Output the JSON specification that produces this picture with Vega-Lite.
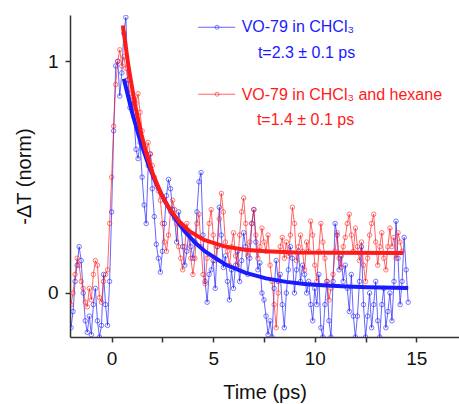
{
  "$schema": "https://vega.github.io/schema/vega-lite/v6.json",
  "width": 389,
  "height": 322,
  "autosize": {"type": "none"},
  "padding": {"left": 70, "top": 15, "right": 0, "bottom": 67},
  "background": "white",
  "config": {"font": "Liberation Sans", "view": {"stroke": null}},
  "datasets": {
    "obs": [
      {"t":-2.0,"v":-0.15,"s":"CHCl3"},{"t":-1.9,"v":-0.08,"s":"CHCl3"},{"t":-1.8,"v":0.05,"s":"CHCl3"},{"t":-1.7,"v":0.12,"s":"CHCl3"},{"t":-1.6,"v":0.2,"s":"CHCl3"},{"t":-1.5,"v":0.14,"s":"CHCl3"},{"t":-1.4,"v":0.0,"s":"CHCl3"},{"t":-1.3,"v":-0.12,"s":"CHCl3"},{"t":-1.2,"v":-0.17,"s":"CHCl3"},{"t":-1.1,"v":-0.1,"s":"CHCl3"},
      {"t":-1.0,"v":-0.18,"s":"CHCl3"},{"t":-0.9,"v":-0.05,"s":"CHCl3"},{"t":-0.8,"v":0.02,"s":"CHCl3"},{"t":-0.7,"v":-0.12,"s":"CHCl3"},{"t":-0.6,"v":-0.19,"s":"CHCl3"},{"t":-0.5,"v":-0.14,"s":"CHCl3"},{"t":-0.4,"v":0.08,"s":"CHCl3"},{"t":-0.3,"v":-0.05,"s":"CHCl3"},{"t":-0.2,"v":-0.14,"s":"CHCl3"},{"t":-0.1,"v":0.05,"s":"CHCl3"},
      {"t":0.0,"v":0.35,"s":"CHCl3"},{"t":0.1,"v":0.7,"s":"CHCl3"},{"t":0.2,"v":0.98,"s":"CHCl3"},{"t":0.3,"v":1.0,"s":"CHCl3"},{"t":0.4,"v":0.85,"s":"CHCl3"},{"t":0.5,"v":0.95,"s":"CHCl3"},{"t":0.6,"v":1.12,"s":"CHCl3"},{"t":0.7,"v":1.19,"s":"CHCl3"},{"t":0.8,"v":0.92,"s":"CHCl3"},{"t":0.9,"v":0.8,"s":"CHCl3"},
      {"t":1.0,"v":0.83,"s":"CHCl3"},{"t":1.1,"v":0.76,"s":"CHCl3"},{"t":1.2,"v":0.62,"s":"CHCl3"},{"t":1.3,"v":0.58,"s":"CHCl3"},{"t":1.4,"v":0.65,"s":"CHCl3"},{"t":1.5,"v":0.5,"s":"CHCl3"},{"t":1.6,"v":0.38,"s":"CHCl3"},{"t":1.7,"v":0.3,"s":"CHCl3"},{"t":1.8,"v":0.55,"s":"CHCl3"},{"t":1.9,"v":0.6,"s":"CHCl3"},
      {"t":2.0,"v":0.45,"s":"CHCl3"},{"t":2.1,"v":0.33,"s":"CHCl3"},{"t":2.2,"v":0.21,"s":"CHCl3"},{"t":2.3,"v":0.15,"s":"CHCl3"},{"t":2.4,"v":0.09,"s":"CHCl3"},{"t":2.5,"v":0.18,"s":"CHCl3"},{"t":2.6,"v":0.3,"s":"CHCl3"},{"t":2.7,"v":0.42,"s":"CHCl3"},{"t":2.8,"v":0.49,"s":"CHCl3"},{"t":2.9,"v":0.45,"s":"CHCl3"},
      {"t":3.0,"v":0.36,"s":"CHCl3"},{"t":3.1,"v":0.32,"s":"CHCl3"},{"t":3.2,"v":0.22,"s":"CHCl3"},{"t":3.3,"v":0.35,"s":"CHCl3"},{"t":3.4,"v":0.3,"s":"CHCl3"},{"t":3.5,"v":0.2,"s":"CHCl3"},{"t":3.6,"v":0.12,"s":"CHCl3"},{"t":3.7,"v":0.18,"s":"CHCl3"},{"t":3.8,"v":0.26,"s":"CHCl3"},{"t":3.9,"v":0.2,"s":"CHCl3"},
      {"t":4.0,"v":0.15,"s":"CHCl3"},{"t":4.1,"v":0.22,"s":"CHCl3"},{"t":4.2,"v":0.35,"s":"CHCl3"},{"t":4.3,"v":0.48,"s":"CHCl3"},{"t":4.4,"v":0.52,"s":"CHCl3"},{"t":4.5,"v":0.25,"s":"CHCl3"},{"t":4.6,"v":0.05,"s":"CHCl3"},{"t":4.7,"v":-0.04,"s":"CHCl3"},{"t":4.8,"v":0.08,"s":"CHCl3"},{"t":4.9,"v":0.1,"s":"CHCl3"},
      {"t":5.0,"v":0.14,"s":"CHCl3"},{"t":5.1,"v":0.02,"s":"CHCl3"},{"t":5.2,"v":0.2,"s":"CHCl3"},{"t":5.3,"v":0.37,"s":"CHCl3"},{"t":5.4,"v":0.25,"s":"CHCl3"},{"t":5.5,"v":0.11,"s":"CHCl3"},{"t":5.6,"v":0.16,"s":"CHCl3"},{"t":5.7,"v":0.05,"s":"CHCl3"},{"t":5.8,"v":-0.03,"s":"CHCl3"},{"t":5.9,"v":0.1,"s":"CHCl3"},
      {"t":6.0,"v":0.02,"s":"CHCl3"},{"t":6.1,"v":0.12,"s":"CHCl3"},{"t":6.2,"v":0.18,"s":"CHCl3"},{"t":6.3,"v":0.05,"s":"CHCl3"},{"t":6.4,"v":0.14,"s":"CHCl3"},{"t":6.5,"v":0.26,"s":"CHCl3"},{"t":6.6,"v":0.2,"s":"CHCl3"},{"t":6.7,"v":0.08,"s":"CHCl3"},{"t":6.8,"v":0.15,"s":"CHCl3"},{"t":6.9,"v":0.3,"s":"CHCl3"},
      {"t":7.0,"v":0.36,"s":"CHCl3"},{"t":7.1,"v":0.22,"s":"CHCl3"},{"t":7.2,"v":0.1,"s":"CHCl3"},{"t":7.3,"v":0.13,"s":"CHCl3"},{"t":7.4,"v":0.0,"s":"CHCl3"},{"t":7.5,"v":-0.03,"s":"CHCl3"},{"t":7.6,"v":-0.1,"s":"CHCl3"},{"t":7.7,"v":-0.18,"s":"CHCl3"},{"t":7.8,"v":-0.12,"s":"CHCl3"},{"t":7.9,"v":-0.19,"s":"CHCl3"},
      {"t":8.0,"v":0.02,"s":"CHCl3"},{"t":8.1,"v":0.14,"s":"CHCl3"},{"t":8.2,"v":0.05,"s":"CHCl3"},{"t":8.3,"v":0.08,"s":"CHCl3"},{"t":8.4,"v":-0.05,"s":"CHCl3"},{"t":8.5,"v":-0.15,"s":"CHCl3"},{"t":8.6,"v":0.0,"s":"CHCl3"},{"t":8.7,"v":0.1,"s":"CHCl3"},{"t":8.8,"v":0.2,"s":"CHCl3"},{"t":8.9,"v":0.15,"s":"CHCl3"},
      {"t":9.0,"v":0.0,"s":"CHCl3"},{"t":9.1,"v":0.1,"s":"CHCl3"},{"t":9.2,"v":0.18,"s":"CHCl3"},{"t":9.3,"v":0.05,"s":"CHCl3"},{"t":9.4,"v":0.12,"s":"CHCl3"},{"t":9.5,"v":0.08,"s":"CHCl3"},{"t":9.6,"v":0.0,"s":"CHCl3"},{"t":9.7,"v":0.05,"s":"CHCl3"},{"t":9.8,"v":-0.05,"s":"CHCl3"},{"t":9.9,"v":-0.12,"s":"CHCl3"},
      {"t":10.0,"v":0.02,"s":"CHCl3"},{"t":10.1,"v":-0.05,"s":"CHCl3"},{"t":10.2,"v":0.08,"s":"CHCl3"},{"t":10.3,"v":-0.15,"s":"CHCl3"},{"t":10.4,"v":-0.19,"s":"CHCl3"},{"t":10.5,"v":-0.05,"s":"CHCl3"},{"t":10.6,"v":0.05,"s":"CHCl3"},{"t":10.7,"v":-0.12,"s":"CHCl3"},{"t":10.8,"v":-0.19,"s":"CHCl3"},{"t":10.9,"v":0.05,"s":"CHCl3"},
      {"t":11.0,"v":0.3,"s":"CHCl3"},{"t":11.1,"v":0.25,"s":"CHCl3"},{"t":11.2,"v":0.1,"s":"CHCl3"},{"t":11.3,"v":0.16,"s":"CHCl3"},{"t":11.4,"v":0.05,"s":"CHCl3"},{"t":11.5,"v":0.12,"s":"CHCl3"},{"t":11.6,"v":0.02,"s":"CHCl3"},{"t":11.7,"v":-0.08,"s":"CHCl3"},{"t":11.8,"v":0.08,"s":"CHCl3"},{"t":11.9,"v":-0.1,"s":"CHCl3"},
      {"t":12.0,"v":-0.19,"s":"CHCl3"},{"t":12.1,"v":-0.1,"s":"CHCl3"},{"t":12.2,"v":0.05,"s":"CHCl3"},{"t":12.3,"v":0.2,"s":"CHCl3"},{"t":12.4,"v":-0.05,"s":"CHCl3"},{"t":12.5,"v":-0.19,"s":"CHCl3"},{"t":12.6,"v":-0.1,"s":"CHCl3"},{"t":12.7,"v":0.0,"s":"CHCl3"},{"t":12.8,"v":-0.15,"s":"CHCl3"},{"t":12.9,"v":-0.05,"s":"CHCl3"},
      {"t":13.0,"v":0.05,"s":"CHCl3"},{"t":13.1,"v":-0.12,"s":"CHCl3"},{"t":13.2,"v":-0.19,"s":"CHCl3"},{"t":13.3,"v":-0.05,"s":"CHCl3"},{"t":13.4,"v":0.02,"s":"CHCl3"},{"t":13.5,"v":-0.15,"s":"CHCl3"},{"t":13.6,"v":-0.08,"s":"CHCl3"},{"t":13.7,"v":0.0,"s":"CHCl3"},{"t":13.8,"v":-0.12,"s":"CHCl3"},{"t":13.9,"v":0.05,"s":"CHCl3"},
      {"t":14.0,"v":0.31,"s":"CHCl3"},{"t":14.1,"v":0.15,"s":"CHCl3"},{"t":14.2,"v":-0.05,"s":"CHCl3"},{"t":14.3,"v":0.05,"s":"CHCl3"},{"t":14.4,"v":0.24,"s":"CHCl3"},{"t":14.5,"v":0.1,"s":"CHCl3"},{"t":14.6,"v":-0.04,"s":"CHCl3"},
      {"t":-2.0,"v":-0.05,"s":"hexane"},{"t":-1.9,"v":0.0,"s":"hexane"},{"t":-1.8,"v":0.08,"s":"hexane"},{"t":-1.7,"v":0.15,"s":"hexane"},{"t":-1.6,"v":0.12,"s":"hexane"},{"t":-1.5,"v":0.05,"s":"hexane"},{"t":-1.4,"v":0.02,"s":"hexane"},{"t":-1.3,"v":-0.04,"s":"hexane"},{"t":-1.2,"v":-0.06,"s":"hexane"},{"t":-1.1,"v":0.02,"s":"hexane"},
      {"t":-1.0,"v":-0.03,"s":"hexane"},{"t":-0.9,"v":0.08,"s":"hexane"},{"t":-0.8,"v":0.14,"s":"hexane"},{"t":-0.7,"v":0.12,"s":"hexane"},{"t":-0.6,"v":-0.02,"s":"hexane"},{"t":-0.5,"v":-0.04,"s":"hexane"},{"t":-0.4,"v":0.05,"s":"hexane"},{"t":-0.3,"v":0.08,"s":"hexane"},{"t":-0.2,"v":0.1,"s":"hexane"},{"t":-0.1,"v":0.3,"s":"hexane"},
      {"t":0.0,"v":0.5,"s":"hexane"},{"t":0.1,"v":0.72,"s":"hexane"},{"t":0.2,"v":0.9,"s":"hexane"},{"t":0.3,"v":1.0,"s":"hexane"},{"t":0.4,"v":1.05,"s":"hexane"},{"t":0.5,"v":0.98,"s":"hexane"},{"t":0.6,"v":1.02,"s":"hexane"},{"t":0.7,"v":0.97,"s":"hexane"},{"t":0.8,"v":0.92,"s":"hexane"},{"t":0.9,"v":0.86,"s":"hexane"},
      {"t":1.0,"v":0.8,"s":"hexane"},{"t":1.1,"v":0.84,"s":"hexane"},{"t":1.2,"v":0.82,"s":"hexane"},{"t":1.3,"v":0.86,"s":"hexane"},{"t":1.4,"v":0.78,"s":"hexane"},{"t":1.5,"v":0.7,"s":"hexane"},{"t":1.6,"v":0.62,"s":"hexane"},{"t":1.7,"v":0.6,"s":"hexane"},{"t":1.8,"v":0.65,"s":"hexane"},{"t":1.9,"v":0.6,"s":"hexane"},
      {"t":2.0,"v":0.55,"s":"hexane"},{"t":2.1,"v":0.5,"s":"hexane"},{"t":2.2,"v":0.46,"s":"hexane"},{"t":2.3,"v":0.44,"s":"hexane"},{"t":2.4,"v":0.4,"s":"hexane"},{"t":2.5,"v":0.3,"s":"hexane"},{"t":2.6,"v":0.22,"s":"hexane"},{"t":2.7,"v":0.18,"s":"hexane"},{"t":2.8,"v":0.25,"s":"hexane"},{"t":2.9,"v":0.35,"s":"hexane"},
      {"t":3.0,"v":0.4,"s":"hexane"},{"t":3.1,"v":0.36,"s":"hexane"},{"t":3.2,"v":0.3,"s":"hexane"},{"t":3.3,"v":0.2,"s":"hexane"},{"t":3.4,"v":0.15,"s":"hexane"},{"t":3.5,"v":0.1,"s":"hexane"},{"t":3.6,"v":0.2,"s":"hexane"},{"t":3.7,"v":0.3,"s":"hexane"},{"t":3.8,"v":0.25,"s":"hexane"},{"t":3.9,"v":0.15,"s":"hexane"},
      {"t":4.0,"v":0.08,"s":"hexane"},{"t":4.1,"v":0.15,"s":"hexane"},{"t":4.2,"v":0.3,"s":"hexane"},{"t":4.3,"v":0.34,"s":"hexane"},{"t":4.4,"v":0.2,"s":"hexane"},{"t":4.5,"v":0.08,"s":"hexane"},{"t":4.6,"v":0.04,"s":"hexane"},{"t":4.7,"v":0.15,"s":"hexane"},{"t":4.8,"v":0.3,"s":"hexane"},{"t":4.9,"v":0.36,"s":"hexane"},
      {"t":5.0,"v":0.25,"s":"hexane"},{"t":5.1,"v":0.14,"s":"hexane"},{"t":5.2,"v":0.2,"s":"hexane"},{"t":5.3,"v":0.32,"s":"hexane"},{"t":5.4,"v":0.43,"s":"hexane"},{"t":5.5,"v":0.35,"s":"hexane"},{"t":5.6,"v":0.22,"s":"hexane"},{"t":5.7,"v":0.18,"s":"hexane"},{"t":5.8,"v":0.12,"s":"hexane"},{"t":5.9,"v":0.2,"s":"hexane"},
      {"t":6.0,"v":0.26,"s":"hexane"},{"t":6.1,"v":0.16,"s":"hexane"},{"t":6.2,"v":0.12,"s":"hexane"},{"t":6.3,"v":0.25,"s":"hexane"},{"t":6.4,"v":0.35,"s":"hexane"},{"t":6.5,"v":0.41,"s":"hexane"},{"t":6.6,"v":0.3,"s":"hexane"},{"t":6.7,"v":0.16,"s":"hexane"},{"t":6.8,"v":0.22,"s":"hexane"},{"t":6.9,"v":0.3,"s":"hexane"},
      {"t":7.0,"v":0.36,"s":"hexane"},{"t":7.1,"v":0.25,"s":"hexane"},{"t":7.2,"v":0.15,"s":"hexane"},{"t":7.3,"v":0.2,"s":"hexane"},{"t":7.4,"v":0.28,"s":"hexane"},{"t":7.5,"v":0.22,"s":"hexane"},{"t":7.6,"v":0.18,"s":"hexane"},{"t":7.7,"v":0.25,"s":"hexane"},{"t":7.8,"v":0.12,"s":"hexane"},{"t":7.9,"v":0.05,"s":"hexane"},
      {"t":8.0,"v":-0.05,"s":"hexane"},{"t":8.1,"v":-0.15,"s":"hexane"},{"t":8.2,"v":0.0,"s":"hexane"},{"t":8.3,"v":0.2,"s":"hexane"},{"t":8.4,"v":0.24,"s":"hexane"},{"t":8.5,"v":0.15,"s":"hexane"},{"t":8.6,"v":0.22,"s":"hexane"},{"t":8.7,"v":0.16,"s":"hexane"},{"t":8.8,"v":0.25,"s":"hexane"},{"t":8.9,"v":0.37,"s":"hexane"},
      {"t":9.0,"v":0.3,"s":"hexane"},{"t":9.1,"v":0.14,"s":"hexane"},{"t":9.2,"v":0.2,"s":"hexane"},{"t":9.3,"v":0.25,"s":"hexane"},{"t":9.4,"v":0.18,"s":"hexane"},{"t":9.5,"v":0.1,"s":"hexane"},{"t":9.6,"v":0.22,"s":"hexane"},{"t":9.7,"v":0.18,"s":"hexane"},{"t":9.8,"v":0.31,"s":"hexane"},{"t":9.9,"v":0.25,"s":"hexane"},
      {"t":10.0,"v":0.12,"s":"hexane"},{"t":10.1,"v":0.05,"s":"hexane"},{"t":10.2,"v":0.18,"s":"hexane"},{"t":10.3,"v":0.3,"s":"hexane"},{"t":10.4,"v":0.22,"s":"hexane"},{"t":10.5,"v":0.15,"s":"hexane"},{"t":10.6,"v":0.05,"s":"hexane"},{"t":10.7,"v":-0.03,"s":"hexane"},{"t":10.8,"v":0.02,"s":"hexane"},{"t":10.9,"v":0.08,"s":"hexane"},
      {"t":11.0,"v":0.18,"s":"hexane"},{"t":11.1,"v":0.26,"s":"hexane"},{"t":11.2,"v":0.15,"s":"hexane"},{"t":11.3,"v":0.11,"s":"hexane"},{"t":11.4,"v":0.2,"s":"hexane"},{"t":11.5,"v":0.24,"s":"hexane"},{"t":11.6,"v":0.3,"s":"hexane"},{"t":11.7,"v":0.34,"s":"hexane"},{"t":11.8,"v":0.25,"s":"hexane"},{"t":11.9,"v":0.18,"s":"hexane"},
      {"t":12.0,"v":0.28,"s":"hexane"},{"t":12.1,"v":0.2,"s":"hexane"},{"t":12.2,"v":0.14,"s":"hexane"},{"t":12.3,"v":0.22,"s":"hexane"},{"t":12.4,"v":0.12,"s":"hexane"},{"t":12.5,"v":0.05,"s":"hexane"},{"t":12.6,"v":0.15,"s":"hexane"},{"t":12.7,"v":0.25,"s":"hexane"},{"t":12.8,"v":0.3,"s":"hexane"},{"t":12.9,"v":0.34,"s":"hexane"},
      {"t":13.0,"v":0.22,"s":"hexane"},{"t":13.1,"v":0.12,"s":"hexane"},{"t":13.2,"v":0.2,"s":"hexane"},{"t":13.3,"v":0.26,"s":"hexane"},{"t":13.4,"v":0.15,"s":"hexane"},{"t":13.5,"v":0.1,"s":"hexane"},{"t":13.6,"v":0.2,"s":"hexane"},{"t":13.7,"v":0.28,"s":"hexane"},{"t":13.8,"v":0.2,"s":"hexane"},{"t":13.9,"v":0.24,"s":"hexane"},
      {"t":14.0,"v":0.15,"s":"hexane"},{"t":14.1,"v":0.26,"s":"hexane"},{"t":14.2,"v":0.22,"s":"hexane"},{"t":14.3,"v":0.18,"s":"hexane"}
    ],
    "fit": [
      {"t":0.6,"v":0.925,"s":"CHCl3"},{"t":1.0,"v":0.781,"s":"CHCl3"},{"t":1.4,"v":0.659,"s":"CHCl3"},{"t":1.8,"v":0.557,"s":"CHCl3"},{"t":2.2,"v":0.471,"s":"CHCl3"},{"t":2.6,"v":0.399,"s":"CHCl3"},{"t":3.1,"v":0.325,"s":"CHCl3"},{"t":3.6,"v":0.266,"s":"CHCl3"},{"t":4.1,"v":0.218,"s":"CHCl3"},{"t":4.6,"v":0.179,"s":"CHCl3"},{"t":5.6,"v":0.123,"s":"CHCl3"},{"t":6.6,"v":0.087,"s":"CHCl3"},{"t":7.6,"v":0.063,"s":"CHCl3"},{"t":8.6,"v":0.048,"s":"CHCl3"},{"t":9.6,"v":0.038,"s":"CHCl3"},{"t":10.6,"v":0.032,"s":"CHCl3"},{"t":11.6,"v":0.028,"s":"CHCl3"},{"t":12.6,"v":0.025,"s":"CHCl3"},{"t":14.6,"v":0.022,"s":"CHCl3"},
      {"t":0.55,"v":1.155,"s":"hexane"},{"t":0.85,"v":0.966,"s":"hexane"},{"t":1.15,"v":0.813,"s":"hexane"},{"t":1.45,"v":0.689,"s":"hexane"},{"t":1.75,"v":0.59,"s":"hexane"},{"t":2.05,"v":0.509,"s":"hexane"},{"t":2.45,"v":0.426,"s":"hexane"},{"t":2.85,"v":0.363,"s":"hexane"},{"t":3.35,"v":0.306,"s":"hexane"},{"t":3.85,"v":0.266,"s":"hexane"},{"t":4.55,"v":0.229,"s":"hexane"},{"t":5.55,"v":0.201,"s":"hexane"},{"t":6.55,"v":0.187,"s":"hexane"},{"t":7.55,"v":0.18,"s":"hexane"},{"t":9.05,"v":0.175,"s":"hexane"},{"t":11.05,"v":0.174,"s":"hexane"},{"t":14.35,"v":0.173,"s":"hexane"}
    ],
    "keyline": [
      {"t":4.26,"v":1.147,"s":"CHCl3"},{"t":6.08,"v":1.147,"s":"CHCl3"},
      {"t":4.26,"v":0.858,"s":"hexane"},{"t":6.08,"v":0.858,"s":"hexane"}
    ],
    "keydot": [
      {"t":5.19,"v":1.147,"s":"CHCl3"},{"t":5.19,"v":0.858,"s":"hexane"}
    ],
    "notes": [
      {"t":6.4,"v":1.147,"s":"CHCl3","text":"VO-79 in CHCl₃"},
      {"t":7.2,"v":1.035,"s":"CHCl3","text":"t=2.3 ± 0.1 ps"},
      {"t":6.4,"v":0.855,"s":"hexane","text":"VO-79 in CHCl₃ and hexane"},
      {"t":7.15,"v":0.745,"s":"hexane","text":"t=1.4 ± 0.1 ps"}
    ]
  },
  "encoding": {
    "x": {
      "field": "t", "type": "quantitative",
      "scale": {"domain": [-2.05, 17.1], "nice": false, "zero": false},
      "axis": {
        "title": "Time (ps)", "values": [0, 2.5, 5, 7.5, 10, 12.5, 15], "format": "d",
        "labelExpr": "datum.value % 5 === 0 ? datum.label : ''",
        "grid": false, "domainColor": "#333", "tickColor": "#333", "domainWidth": 1.5, "tickWidth": 1.5, "tickSize": 5,
        "labelFontSize": 19, "titleFontSize": 20, "titleFontWeight": "normal", "labelColor": "#111", "titleColor": "#111",
        "labelPadding": 7, "titlePadding": 14, "labelFont": "Liberation Sans", "titleFont": "Liberation Sans"
      }
    },
    "y": {
      "field": "v", "type": "quantitative",
      "scale": {"domain": [-0.19, 1.2], "nice": false, "zero": false},
      "axis": {
        "title": "-ΔT (norm)", "values": [0, 0.5, 1], "format": "d",
        "labelExpr": "datum.value === 0.5 ? '' : datum.label",
        "grid": false, "domainColor": "#333", "tickColor": "#333", "domainWidth": 1.5, "tickWidth": 1.5, "tickSize": 5,
        "labelFontSize": 19, "titleFontSize": 20, "titleFontWeight": "normal", "labelColor": "#111", "titleColor": "#111",
        "labelPadding": 7, "titlePadding": 13, "labelFont": "Liberation Sans", "titleFont": "Liberation Sans"
      }
    },
    "color": {
      "field": "s", "type": "nominal",
      "scale": {"domain": ["CHCl3", "hexane"], "range": ["#1a1aff", "#ff1a1a"]},
      "legend": null
    }
  },
  "layer": [
    {"data": {"name": "obs"}, "mark": {"type": "line", "strokeWidth": 0.9, "opacity": 0.75, "clip": true}, "encoding": {"order": {"field": "t"}}},
    {"data": {"name": "obs"}, "mark": {"type": "point", "filled": false, "shape": "circle", "size": 20, "strokeWidth": 0.9, "opacity": 0.65, "clip": true}},
    {"data": {"name": "fit"}, "mark": {"type": "line", "strokeWidth": 4, "clip": true}, "encoding": {"color": {"field": "s", "type": "nominal", "scale": {"domain": ["CHCl3", "hexane"], "range": ["#0000ff", "#ff0000"]}, "legend": null}}},
    {"data": {"name": "keyline"}, "mark": {"type": "line", "strokeWidth": 0.9, "opacity": 0.75}, "encoding": {}},
    {"data": {"name": "keydot"}, "mark": {"type": "point", "filled": false, "shape": "circle", "size": 16, "strokeWidth": 0.8, "opacity": 0.7}},
    {"data": {"name": "notes"}, "mark": {"type": "text", "align": "left", "baseline": "middle", "fontSize": 16, "font": "Liberation Sans"}, "encoding": {"text": {"field": "text"}}}
  ]
}
